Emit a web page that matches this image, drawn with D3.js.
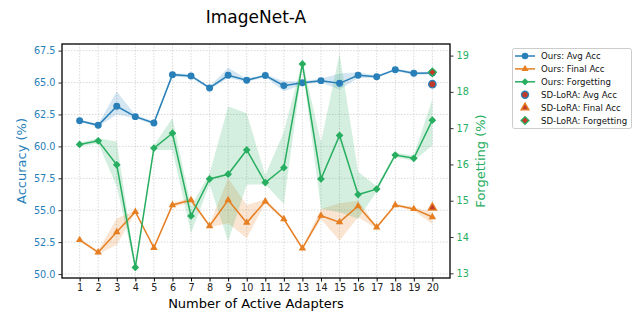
<!DOCTYPE html>
<html><head><meta charset="utf-8">
<script src="https://cdn.jsdelivr.net/npm/d3@7"></script>
<style>body{margin:0;background:#fff}svg{display:block;font-family:"DejaVu Sans",sans-serif}</style>
</head><body><svg id="c" width="632" height="311"></svg>
<script>
const adapters = [1,2,3,4,5,6,7,8,9,10,11,12,13,14,15,16,17,18,19,20];
const avgAcc = [62.0,61.65,63.14,62.33,61.83,65.62,65.52,64.58,65.57,65.18,65.55,64.76,64.99,65.15,64.94,65.57,65.46,66.01,65.73,65.75];
const avgLo  = [61.9,61.55,62.5,62.2,61.7,65.45,65.4,64.45,65.35,65.05,65.45,64.3,64.85,65.0,64.45,65.35,65.35,65.9,65.6,65.65];
const avgHi  = [62.1,61.75,64.3,62.45,61.95,65.75,65.65,64.7,66.15,65.3,65.65,65.1,65.1,65.3,65.7,65.8,65.55,66.1,65.85,65.85];
const finalAcc = [52.67,51.7,53.29,54.88,52.06,55.41,55.8,53.76,55.8,54.02,55.7,54.31,52.01,54.57,54.07,55.33,53.66,55.41,55.1,54.47];
const finalLo  = [52.57,51.55,52.3,54.78,51.96,55.25,55.6,53.66,53.97,52.8,55.55,54.2,51.91,54.3,52.6,54.45,53.56,55.3,54.95,53.92];
const finalHi  = [52.77,51.85,54.35,54.98,52.16,55.55,56.0,53.86,57.5,55.41,55.85,54.42,52.11,55.1,55.54,55.75,53.76,55.51,55.25,54.83];
const forgetting = [16.55,16.65,15.99,13.16,16.45,16.86,14.58,15.6,15.73,16.4,15.5,15.91,18.77,15.6,16.8,15.17,15.32,16.26,16.17,17.22];
const forgLo = [16.5,16.58,15.39,13.12,16.4,16.4,14.11,15.45,13.88,15.44,15.45,14.91,18.7,14.78,14.68,14.5,15.25,16.2,16.1,16.52];
const forgHi = [16.6,16.72,16.63,13.2,16.52,17.28,14.85,15.75,17.6,17.41,15.7,16.9,18.85,16.61,19.05,15.8,15.4,16.32,16.25,17.8];
const sdX = 20, sdAvg = 64.87, sdFinal = 55.2, sdForg = 18.54;
const leftTicks = [50.0,52.5,55.0,57.5,60.0,62.5,65.0,67.5];
const rightTicks = [13,14,15,16,17,18,19];
const legendLabels = ["Ours: Avg Acc","Ours: Final Acc","Ours: Forgetting","SD-LoRA: Avg Acc","SD-LoRA: Final Acc","SD-LoRA: Forgetting"];

const C_AVG="#2980b9", C_FIN="#e67e22", C_FOR="#27ae60", C_SD="#c0392b";
const L=62,R=450,T=44,B=278;
const svg=d3.select("#c");
const x=d3.scaleLinear().domain([0.05,20.95]).range([L,R]);
const yL=d3.scaleLinear().domain([49.69,68.02]).range([B,T]);
const yR=d3.scaleLinear().domain([12.87,19.32]).range([B,T]);

// grid
const g=svg.append("g");
g.selectAll(".gx").data(adapters).join("line").attr("x1",d=>x(d)).attr("x2",d=>x(d)).attr("y1",T).attr("y2",B)
 .attr("stroke","#cfcfcf").attr("stroke-width",0.8).attr("stroke-dasharray","1.5,1.5");
g.selectAll(".gy").data(leftTicks).join("line").attr("x1",L).attr("x2",R).attr("y1",d=>yL(d)).attr("y2",d=>yL(d))
 .attr("stroke","#cfcfcf").attr("stroke-width",0.8).attr("stroke-dasharray","1.5,1.5");

const idx=d3.range(adapters.length);
const sym={
  circle:{t:d3.symbolCircle,rot:0},
  tri:{t:d3.symbolTriangle,rot:0},
  dia:{t:d3.symbolSquare,rot:45}
};
function band(lo,hi,ys,col){
  svg.append("path").datum(idx).attr("d",d3.area().x(i=>x(adapters[i])).y0(i=>ys(lo[i])).y1(i=>ys(hi[i])))
   .attr("fill",col).attr("fill-opacity",0.2).attr("stroke","none");
}
function line(vals,ys,col){
  svg.append("path").datum(idx).attr("d",d3.line().x(i=>x(adapters[i])).y(i=>ys(vals[i])))
   .attr("fill","none").attr("stroke",col).attr("stroke-width",1.5);
}
function marks(vals,ys,col,s,size){
  svg.append("g").selectAll("path").data(idx).join("path")
   .attr("transform",i=>`translate(${x(adapters[i])},${ys(vals[i])}) rotate(${s.rot})`)
   .attr("d",d3.symbol().type(s.t).size(size)).attr("fill",col);
}
band(avgLo,avgHi,yL,C_AVG);
band(finalLo,finalHi,yL,C_FIN);
band(forgLo,forgHi,yR,C_FOR);
line(avgAcc,yL,C_AVG); marks(avgAcc,yL,C_AVG,sym.circle,38);
line(finalAcc,yL,C_FIN); marks(finalAcc,yL,C_FIN,sym.tri,24);
line(forgetting,yR,C_FOR); marks(forgetting,yR,C_FOR,sym.dia,30);

// SD-LoRA
function sd(px,py,s,size,edge){
  svg.append("path").attr("transform",`translate(${px},${py}) rotate(${s.rot})`).attr("d",d3.symbol().type(s.t).size(size))
   .attr("fill",C_SD).attr("stroke",edge).attr("stroke-width",1.4);
}
sd(x(sdX),yL(sdAvg),sym.circle,42,C_AVG);
sd(x(sdX),yL(sdFinal),sym.tri,28,C_FIN);
sd(x(sdX),yR(sdForg),sym.dia,32,C_FOR);

// frame
svg.append("rect").attr("x",L).attr("y",T).attr("width",R-L).attr("height",B-T).attr("fill","none").attr("stroke","#000").attr("stroke-width",1.3);

// axes
const ax=svg.append("g").attr("transform",`translate(0,${B})`).call(d3.axisBottom(x).tickValues(adapters).tickSize(3.5).tickPadding(3).tickFormat(d3.format("d")));
ax.select(".domain").remove();
ax.selectAll("text").attr("font-size",9.7).attr("fill","#222").attr("font-family","DejaVu Sans");
const al=svg.append("g").attr("transform",`translate(${L},0)`).call(d3.axisLeft(yL).tickValues(leftTicks).tickSize(3.5).tickPadding(3).tickFormat(d3.format(".1f")));
al.select(".domain").remove();
al.selectAll("text").attr("font-size",9.7).attr("fill",C_AVG).attr("font-family","DejaVu Sans");
al.selectAll("line").attr("stroke","#333");
const ar=svg.append("g").attr("transform",`translate(${R},0)`).call(d3.axisRight(yR).tickValues(rightTicks).tickSize(3.5).tickPadding(3).tickFormat(d3.format("d")));
ar.select(".domain").remove();
ar.selectAll("text").attr("font-size",9.7).attr("fill",C_FOR).attr("font-family","DejaVu Sans");
ar.selectAll("line").attr("stroke","#333");

// labels
svg.append("text").attr("x",(L+R)/2).attr("y",23).attr("text-anchor","middle").attr("font-size",17).attr("fill","#000").text("ImageNet-A");
svg.append("text").attr("x",(L+R)/2).attr("y",308).attr("text-anchor","middle").attr("font-size",13).attr("fill","#000").text("Number of Active Adapters");
svg.append("text").attr("transform",`translate(26,${(T+B)/2}) rotate(-90)`).attr("text-anchor","middle").attr("font-size",13).attr("fill",C_AVG).text("Accuracy (%)");
svg.append("text").attr("transform",`translate(485,${(T+B)/2}) rotate(-90)`).attr("text-anchor","middle").attr("font-size",13).attr("fill",C_FOR).text("Forgetting (%)");

// legend
const lg=svg.append("g");
lg.append("rect").attr("x",512.5).attr("y",48.5).attr("width",119).attr("height",80).attr("rx",2).attr("fill","#fff").attr("stroke","#ccc").attr("stroke-width",1);
const cols=[C_AVG,C_FIN,C_FOR,C_AVG,C_FIN,C_FOR];
const types=[sym.circle,sym.tri,sym.dia,sym.circle,sym.tri,sym.dia];
const lsz=[34,22,26,38,26,30];
legendLabels.forEach((t,i)=>{
  const yy=56+i*12.9;
  if(i<3){
    lg.append("line").attr("x1",515).attr("x2",535).attr("y1",yy).attr("y2",yy).attr("stroke",cols[i]).attr("stroke-width",1.5);
    lg.append("path").attr("transform",`translate(525,${yy}) rotate(${types[i].rot})`).attr("d",d3.symbol().type(types[i].t).size(lsz[i])).attr("fill",cols[i]);
  } else {
    lg.append("path").attr("transform",`translate(525,${yy}) rotate(${types[i].rot})`).attr("d",d3.symbol().type(types[i].t).size(lsz[i])).attr("fill",C_SD).attr("stroke",cols[i]).attr("stroke-width",1.4);
  }
  lg.append("text").attr("x",541).attr("y",yy+3.1).attr("font-size",8.6).attr("fill","#111").text(t);
});
</script></body></html>
